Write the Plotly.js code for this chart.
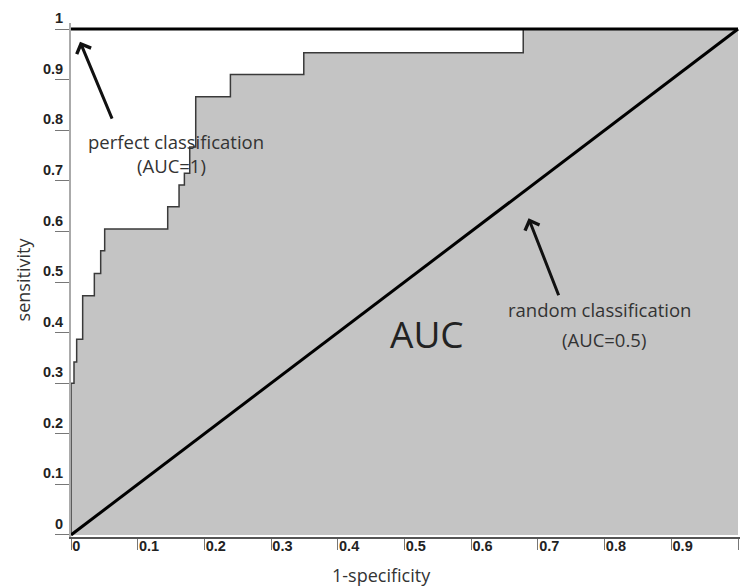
<!DOCTYPE html>
<html>
<head>
<meta charset="utf-8">
<script src="https://cdn.plot.ly/plotly-3.0.1.min.js"></script>
<style>html,body{margin:0;padding:0;background:#fff;}#chart{width:743px;height:587px;}</style>
</head>
<body>
<div id="chart"></div>
<script>
// ROC step curve (1-specificity vs sensitivity)
var fprValues = [0, 0, 0.0045, 0.0085, 0.0175, 0.035, 0.0445, 0.0505, 0.145, 0.162, 0.170, 0.178, 0.187, 0.239, 0.349, 0.678, 1.0];
var tprValues = [0, 0.30, 0.342, 0.387, 0.473, 0.517, 0.562, 0.605, 0.649, 0.692, 0.715, 0.767, 0.866, 0.910, 0.953, 1.0, 1.0];
// random classifier diagonal
var randomX = [0, 1];
var randomY = [0, 1];
// perfect classifier line
var perfectX = [0, 1];
var perfectY = [1, 1];
// ticks
var xTickVals = [0, 0.1, 0.2, 0.3, 0.4, 0.5, 0.6, 0.7, 0.8, 0.9, 1.0];
var xTickText = ["0", "0.1", "0.2", "0.3", "0.4", "0.5", "0.6", "0.7", "0.8", "0.9", ""];
var yTickVals = [0, 0.1, 0.2, 0.3, 0.4, 0.5, 0.6, 0.7, 0.8, 0.9, 1.0];
var yTickText = ["0", "0.1", "0.2", "0.3", "0.4", "0.5", "0.6", "0.7", "0.8", "0.9", "1"];

var textFont = {family: "Open Sans, sans-serif", size: 18.5, color: "#333"};
var tickFont = {family: "Liberation Sans, Arial, sans-serif", size: 14.5, color: "#222", weight: 700};

var traces = [
  {x: fprValues, y: tprValues, type: "scatter", mode: "lines",
   line: {shape: "hv", color: "#3a3a3a", width: 1.5},
   fill: "tozeroy", fillcolor: "#c4c4c4", hoverinfo: "skip"},
  {x: randomX, y: randomY, type: "scatter", mode: "lines",
   line: {color: "#000", width: 3}, hoverinfo: "skip"},
  {x: perfectX, y: perfectY, type: "scatter", mode: "lines",
   line: {color: "#000", width: 3}, hoverinfo: "skip"}
];

var layout = {
  width: 743, height: 587,
  margin: {l: 71, r: 3, t: 23, b: 50},
  paper_bgcolor: "#fff", plot_bgcolor: "#fff",
  showlegend: false,
  xaxis: {
    range: [0, 1.003], showgrid: false, zeroline: false,
    showline: true, linecolor: "#555", linewidth: 1.5,
    ticks: "outside", ticklen: 11, tickcolor: "#777", tickwidth: 1,
    tickvals: xTickVals, ticktext: xTickText,
    ticklabelposition: "outside right", ticklabelstandoff: -5,
    tickfont: tickFont, fixedrange: true
  },
  yaxis: {
    range: [-0.004, 1.012], showgrid: false, zeroline: false,
    showline: true, linecolor: "#aaa", linewidth: 2,
    ticks: "outside", ticklen: 14, tickcolor: "#777", tickwidth: 1,
    tickvals: yTickVals, ticktext: yTickText,
    ticklabelstandoff: -11, ticklabelshift: -11,
    tickfont: tickFont, fixedrange: true,
    title: {text: "sensitivity", font: {family: "Open Sans, sans-serif", size: 18, color: "#333"}, standoff: 8}
  },
  annotations: [
    {xref: "paper", yref: "paper", x: 0.4634, y: -0.0749, xanchor: "center", yanchor: "middle",
     text: "1-specificity", showarrow: false, font: {family: "Open Sans, sans-serif", size: 18, color: "#333"}},
    {xref: "x", yref: "y", x: 0.157, y: 0.777, text: "perfect classification", showarrow: false, font: textFont},
    {xref: "x", yref: "y", x: 0.150, y: 0.730, text: "(AUC=1)", showarrow: false, font: textFont},
    {xref: "x", yref: "y", x: 0.792, y: 0.445, text: "random classification", showarrow: false, font: textFont},
    {xref: "x", yref: "y", x: 0.799, y: 0.387, text: "(AUC=0.5)", showarrow: false, font: textFont},
    {xref: "x", yref: "y", x: 0.534, y: 0.399, text: "AUC", showarrow: false,
     font: {family: "Open Sans, sans-serif", size: 37, color: "#222"}},
    {xref: "x", yref: "y", axref: "x", ayref: "y", x: 0.0135, y: 0.975, ax: 0.0625, ay: 0.820,
     text: "", showarrow: true, arrowhead: 4, arrowsize: 1, arrowwidth: 3, arrowcolor: "#111", standoff: 0},
    {xref: "x", yref: "y", axref: "x", ayref: "y", x: 0.686, y: 0.626, ax: 0.732, ay: 0.471,
     text: "", showarrow: true, arrowhead: 4, arrowsize: 1, arrowwidth: 3, arrowcolor: "#111", standoff: 0}
  ]
};

Plotly.newPlot("chart", traces, layout, {displayModeBar: false, staticPlot: true});
</script>
</body>
</html>
